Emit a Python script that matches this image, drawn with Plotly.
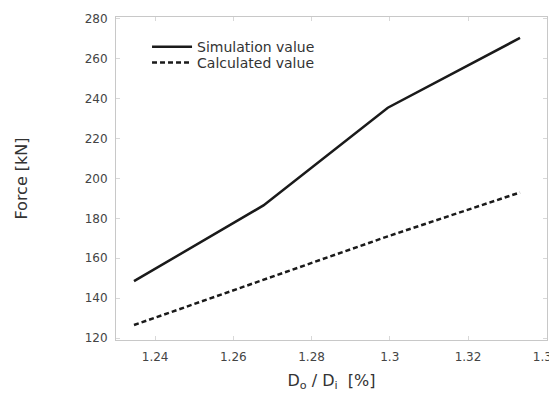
import plotly.graph_objects as go

ratio = [1.2346, 1.2677, 1.2995, 1.3333]
simulation = [148.5, 186.5, 235.5, 270.5]
calculated = [126.5, 149.0, 171.0, 193.0]

x_ticks = [1.24, 1.26, 1.28, 1.3, 1.32, 1.34]
x_tick_text = ["1.24", "1.26", "1.28", "1.3", "1.32", "1.34"]
y_ticks = [120, 140, 160, 180, 200, 220, 240, 260, 280]

FONT = "DejaVu Sans"

fig = go.Figure()
fig.add_trace(go.Scatter(x=ratio, y=simulation, mode="lines", name="Simulation value",
                         legend="legend",
                         line=dict(color="#1a1a1a", width=2.5)))
fig.add_trace(go.Scatter(x=ratio, y=calculated, mode="lines", name="Calculated value",
                         legend="legend2",
                         line=dict(color="#1a1a1a", width=2.5, dash="5px,3px")))

axis_common = dict(showgrid=False, zeroline=False, showline=True, linecolor="#c8c8c8",
                   linewidth=1, mirror="ticks", ticks="inside", tickcolor="#d8d8d8",
                   ticklen=4, automargin=False, ticklabeloverflow="allow",
                   tickfont=dict(family=FONT, size=12, color="#444"))

legend_common = dict(x=0.072, xanchor="left", yanchor="middle", bgcolor="rgba(0,0,0,0)",
                     font=dict(family=FONT, size=14, color="#333"), itemwidth=40)

# page body adds an 8px offset, so the figure is sized to land the plot area at the reference spot
fig.update_layout(
    width=549, height=393,
    margin=dict(l=108, r=10, t=9, b=61),
    plot_bgcolor="white", paper_bgcolor="white",
    font=dict(family=FONT, color="#333"),
    xaxis=dict(range=[1.23, 1.3402], tickvals=x_ticks, ticktext=x_tick_text, ticklabelstandoff=6,
               title=dict(text="D<sub>o</sub> / D<sub>i</sub>  [%]", font=dict(size=16, color="#333"), standoff=11),
               **axis_common),
    yaxis=dict(range=[119, 281], tickvals=y_ticks, ticklabelstandoff=5,
               title=dict(text="Force [kN]", font=dict(size=16, color="#333"), standoff=53),
               **axis_common),
    legend=dict(y=0.907, **legend_common),
    legend2=dict(y=0.858, **legend_common),
    showlegend=True,
)

fig.write_html("out.html")
